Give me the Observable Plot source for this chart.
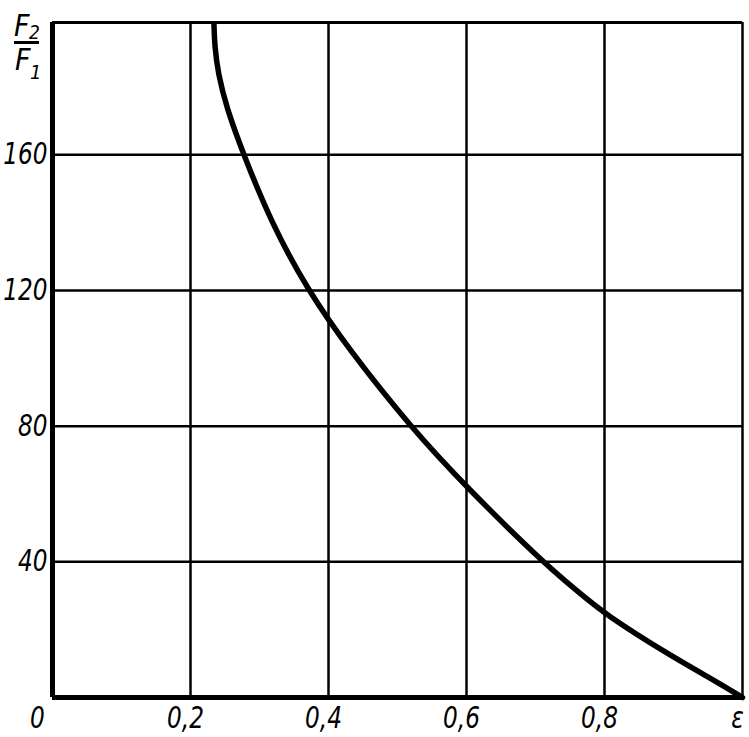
<!DOCTYPE html>
<html>
<head>
<meta charset="utf-8">
<script src="https://cdn.jsdelivr.net/npm/d3@7"></script>
<script src="https://cdn.jsdelivr.net/npm/@observablehq/plot@0.6"></script>
<style>
  html, body { margin: 0; padding: 0; background: #fff; }
  #wrap { position: relative; width: 749px; height: 737px; }
  .lbl { position: absolute; font-family: "DejaVu Sans Condensed", "DejaVu Sans", sans-serif; font-style: italic; line-height: 1; color: #000; white-space: nowrap; }
  .bar { position: absolute; background: #000; }
</style>
</head>
<body>
<div id="wrap">
  <span class="lbl" style="left:14px; top:11px; font-size:30px;">F</span>
  <span class="lbl" style="left:29px; top:23px; font-size:19px;">2</span>
  <div class="bar" style="left:14px; top:41px; width:25px; height:2.5px;"></div>
  <span class="lbl" style="left:15px; top:45px; font-size:30px;">F</span>
  <span class="lbl" style="left:30px; top:62px; font-size:20px;">1</span>
</div>
<script>
// Curve: F2/F1 versus ε
const eps   = [0.234, 0.235, 0.240, 0.252, 0.277, 0.317, 0.370, 0.430, 0.520, 0.600, 0.710, 0.760, 0.800, 0.900, 0.960, 1.000];
const ratio = [198.5, 192, 184, 174, 160, 140, 120, 102.5, 79.5, 62, 40, 31.5, 24.6, 11.8, 5, 0];

// Axes
const xTicks = [0.2, 0.4, 0.6, 0.8, 1.0];
const xTickLabels = ["0,2", "0,4", "0,6", "0,8", "ε"];
const yTicks = [40, 80, 120, 160];
const yTop = 199;

const data = eps.map((e, i) => ({e, r: ratio[i]}));

const chart = Plot.plot({
  width: 749,
  height: 737,
  marginLeft: 52,
  marginRight: 7,
  marginTop: 22,
  marginBottom: 40,
  x: {domain: [0, 1]},
  y: {domain: [0, yTop]},
  style: {
    fontFamily: '"DejaVu Sans Condensed", "DejaVu Sans", sans-serif',
    fontStyle: "italic",
    background: "white",
    color: "black"
  },
  marks: [
    Plot.ruleX(xTicks, {stroke: "black", strokeWidth: 2.5}),
    Plot.ruleY(yTicks, {stroke: "black", strokeWidth: 2.5}),
    Plot.ruleY([yTop], {stroke: "black", strokeWidth: 3}),
    Plot.ruleX([0], {stroke: "black", strokeWidth: 5}),
    Plot.ruleY([0], {stroke: "black", strokeWidth: 5}),
    Plot.line(data, {x: "e", y: "r", stroke: "black", strokeWidth: 5.5, curve: "basis"}),
    Plot.axisX(xTicks, {
      tickSize: 0, tickPadding: 9, fontSize: 30, dx: -5,
      tickFormat: (d) => xTickLabels[xTicks.indexOf(d)],
      label: null
    }),
    Plot.axisY(yTicks, {tickSize: 0, tickPadding: 5, fontSize: 30, label: null}),
    Plot.text([0], {x: d => d, y: d => d, text: () => "0", fontSize: 30, lineAnchor: "top", dy: 9, dx: -15})
  ]
});
// narrow the lettering like the drafting font of the original (scale about each label's own anchor)
d3.select(chart).selectAll("text").each(function() {
  const t = this.getAttribute("transform");
  if (t && /translate/.test(t) && !this.hasAttribute("x")) {
    this.setAttribute("transform", t + " scale(0.86,1)");
  }
});
document.getElementById("wrap").appendChild(chart);
</script>
</body>
</html>
